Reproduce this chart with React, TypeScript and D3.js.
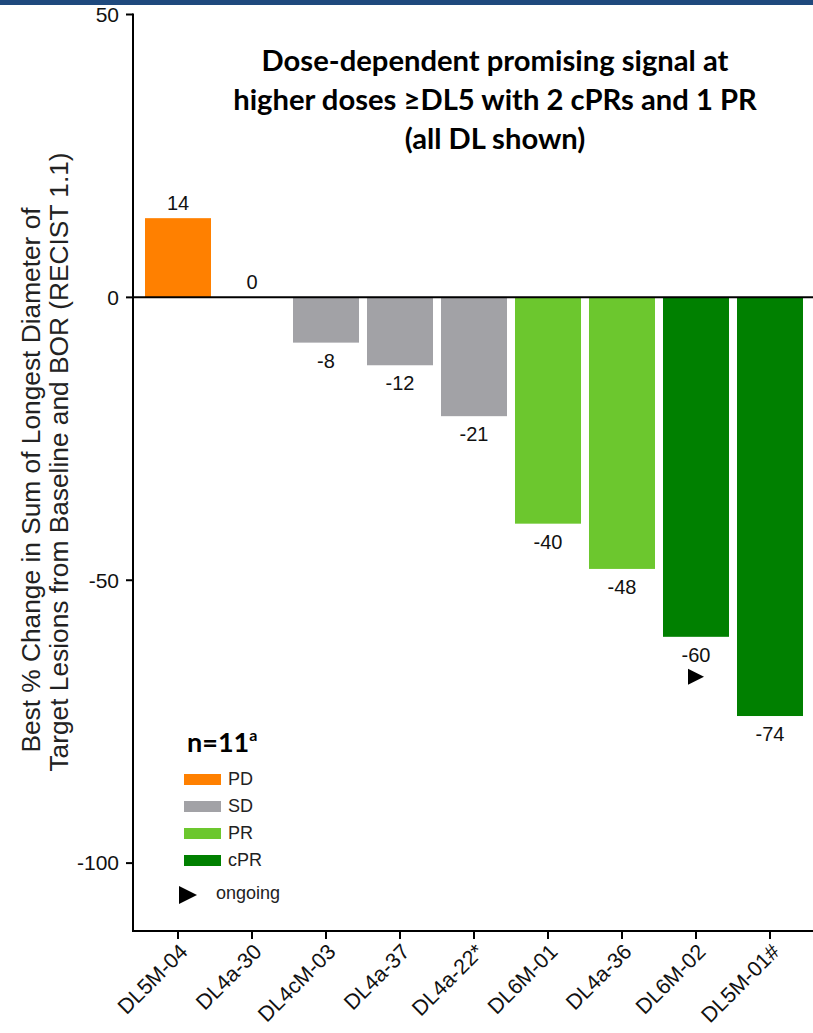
import * as d3 from 'd3';

const patients = ['DL5M-04', 'DL4a-30', 'DL4cM-03', 'DL4a-37', 'DL4a-22*', 'DL6M-01', 'DL4a-36', 'DL6M-02', 'DL5M-01#'];
const changes = [14, 0, -8, -12, -21, -40, -48, -60, -74];
const responses = ['PD', 'SD', 'SD', 'SD', 'SD', 'PR', 'PR', 'cPR', 'cPR'];
const ongoing = [false, false, false, false, false, false, false, true, false];
const yTicks = [50, 0, -50, -100];
const legendItems = ['PD', 'SD', 'PR', 'cPR'];
const titleLines = [
  'Dose-dependent promising signal at',
  'higher doses \u2265DL5 with 2 cPRs and 1 PR',
  '(all DL shown)',
];

const colors: Record<string, string> = {
  PD: '#ff8000',
  SD: '#a2a2a6',
  PR: '#6cc72e',
  cPR: '#008000',
};

const width = 813;
const height = 1033;
const axisFont = '"Liberation Sans", Arial, sans-serif';

export default function App() {
  const x = d3.scaleBand<string>()
    .domain(patients)
    .range([141, 807])
    .paddingInner(0.108)
    .paddingOuter(0.054);
  const y = d3.scaleLinear([-112, 50], [931, 14.5]);
  const y0 = y(0);

  return (
    <svg width={width} height={height} style={{ position: 'absolute', left: 0, top: 0 }}>
      <rect x={0} y={0} width={width} height={height} fill='white' />
      <rect x={0} y={0} width={width} height={5} fill='#1f497d' />

      {/* bars */}
      {patients.map((p, i) => {
        const v = changes[i];
        const top = y(Math.max(0, v));
        const bottom = y(Math.min(0, v));
        return (
          <rect
            key={p}
            x={x(p)}
            y={top}
            width={x.bandwidth()}
            height={bottom - top}
            fill={colors[responses[i]]}
          />
        );
      })}

      {/* value labels */}
      <g fontFamily={axisFont} fontSize={20} textAnchor='middle' fill='#111'>
        {patients.map((p, i) => {
          const v = changes[i];
          const cx = x(p)! + x.bandwidth() / 2;
          const ly = v >= 0 ? y(v) - 8 : y(v) + 25;
          return (
            <text key={p} x={cx} y={ly}>{v}</text>
          );
        })}
      </g>

      {/* ongoing markers */}
      {patients.map((p, i) => {
        if (!ongoing[i]) return null;
        const cx = x(p)! + x.bandwidth() / 2;
        const ty = y(changes[i]) + 40;
        return (
          <path key={p} d={`M${cx - 8},${ty - 8}L${cx + 8},${ty}L${cx - 8},${ty + 8}Z`} fill='#000' />
        );
      })}

      {/* zero line */}
      <line x1={133} x2={width} y1={y0} y2={y0} stroke='#000' strokeWidth={2} />

      {/* y axis */}
      <line x1={133} x2={133} y1={y(50) - 1} y2={y(-112) + 1} stroke='#000' strokeWidth={2} />
      <g fontFamily={axisFont} fontSize={21} fill='#111' textAnchor='end'>
        {yTicks.map((t) => (
          <g key={t}>
            <line x1={126} x2={133} y1={y(t)} y2={y(t)} stroke='#000' strokeWidth={2} />
            <text x={119} y={y(t)} dy='0.35em'>{t}</text>
          </g>
        ))}
      </g>

      {/* x axis */}
      <line x1={132} x2={width} y1={931} y2={931} stroke='#000' strokeWidth={2} />
      <g fontFamily={axisFont} fontSize={21.5} fill='#111'>
        {patients.map((p) => {
          const cx = x(p)! + x.bandwidth() / 2;
          return (
            <g key={p}>
              <line x1={cx} x2={cx} y1={931} y2={939} stroke='#000' strokeWidth={2} />
              <text
                textAnchor='end'
                transform={`translate(${cx + 11},${953}) rotate(-45)`}
              >
                {p}
              </text>
            </g>
          );
        })}
      </g>

      {/* y axis title */}
      <g fontFamily={axisFont} fontSize={26.3} fill='#222' textAnchor='middle'>
        <text transform='translate(40,480) rotate(-90)'>Best % Change in Sum of Longest Diameter of</text>
        <text transform='translate(68,462) rotate(-90)'>Target Lesions from Baseline and BOR (RECIST 1.1)</text>
      </g>

      {/* title */}
      <g fontFamily='Lato, "Noto Sans", sans-serif' fontWeight='bold' fontSize={29.2} textAnchor='middle' fill='#000'>
        {titleLines.map((l, i) => (
          <text key={i} x={495} y={71 + i * 39}>{l}</text>
        ))}
      </g>

      {/* legend */}
      <text x={187} y={752} fontFamily='Lato, "Noto Sans", sans-serif' fontWeight='bold' fontSize={27} fill='#000'>
        n=11<tspan fontSize={16} dy={-11}>a</tspan>
      </text>
      <g fontFamily={axisFont} fontSize={18} fill='#222'>
        {legendItems.map((k, i) => (
          <g key={k} transform={`translate(184,${779 + i * 27})`}>
            <rect x={0} y={-5} width={37} height={11} fill={colors[k]} />
            <text x={44} y={0} dy='0.35em'>{k}</text>
          </g>
        ))}
        <path d='M179,886L197,895L179,904Z' fill='#000' />
        <text x={216} y={893} dy='0.35em'>ongoing</text>
      </g>
    </svg>
  );
}
